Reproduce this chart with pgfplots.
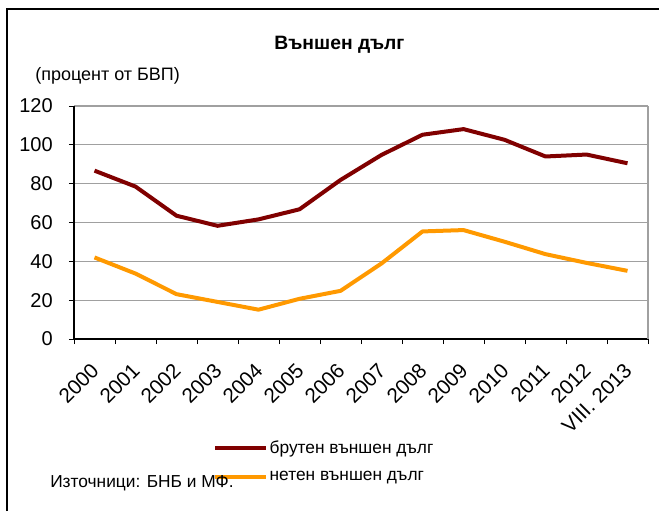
\documentclass[border=0pt]{standalone}
\usepackage{pgfplots}
\pgfplotsset{compat=1.18}
\usepackage{fontspec}
\setmainfont{Liberation Sans}
\definecolor{grossc}{RGB}{128,0,0}
\definecolor{netc}{RGB}{255,153,0}
\definecolor{gridc}{RGB}{160,160,160}
\begin{document}
\begin{tikzpicture}
\useasboundingbox (0pt,0pt) rectangle (494.25pt,383.25pt);
\draw[line width=1.5pt] (5.25pt,0pt) -- (5.25pt,376.5pt) -- (494.25pt,376.5pt);
\begin{axis}[
  at={(55.5pt,129pt)}, anchor=south west,
  scale only axis, width=430.5pt, height=174.75pt,
  xmin=-0.5, xmax=13.5, ymin=0, ymax=120,
  axis lines*=left,
  axis line style={-, black, line width=0.9pt},
  xtick={-0.5,0.5,...,13.5},
  x tick label as interval,
  xticklabels={2000,2001,2002,2003,2004,2005,2006,2007,2008,2009,2010,2011,2012,VIII. 2013},
  ytick={0,20,...,120},
  tick align=outside,
  major tick length=3.75pt,
  tick style={black, line width=0.6pt},
  ymajorgrids,
  major grid style={gridc, line width=0.8pt},
  /pgf/number format/assume math mode=true,
  yticklabel style={font=\fontsize{15}{18}\selectfont, anchor=east, inner sep=0pt, xshift=-12pt},
  xticklabel style={font=\fontsize{15.5}{18}\selectfont, xshift=-3.6pt, yshift=-13pt, rotate=45, anchor=north east, inner sep=0pt},
  legend style={draw=none, fill=none, at={(0.2422,-0.43)}, anchor=north west,
    font=\fontsize{13}{15}\selectfont, row sep=10pt, inner sep=0pt,
    nodes={inner sep=1pt}},
  legend cell align=left,
  legend image code/.code={\draw[#1] (0pt,0pt) -- (38.25pt,0pt);},
  clip=false,
]
\addplot[grossc, line width=3pt, line join=round] coordinates {
(0,86.7) (1,78.5) (2,63.5) (3,58.3) (4,61.6) (5,66.8) (6,81.9)
(7,94.8) (8,105.2) (9,108.1) (10,102.6) (11,94.0) (12,95.0) (13,90.5)};
\addlegendentry{брутен външен дълг}
\addplot[netc, line width=3pt, line join=round] coordinates {
(0,42.0) (1,33.7) (2,23.1) (3,19.1) (4,15.1) (5,20.7) (6,24.8)
(7,38.9) (8,55.4) (9,56.1) (10,50.1) (11,43.7) (12,39.2) (13,35.1)};
\addlegendentry{нетен външен дълг}
\draw[gridc, line width=0.8pt] (rel axis cs:1,0) -- (rel axis cs:1,1);
\end{axis}
\node[font=\bfseries\fontsize{14.5}{16}\selectfont] at (254.6pt,349.5pt) {Външен дълг};
\node[anchor=west, inner sep=0pt, font=\fontsize{13.5}{16}\selectfont] at (26.25pt,326.25pt) {(процент от БВП)};
\node[anchor=west, inner sep=0pt, font=\fontsize{13}{15}\selectfont] at (37.5pt,21pt) {Източници: БНБ и МФ.};
\end{tikzpicture}
\end{document}
